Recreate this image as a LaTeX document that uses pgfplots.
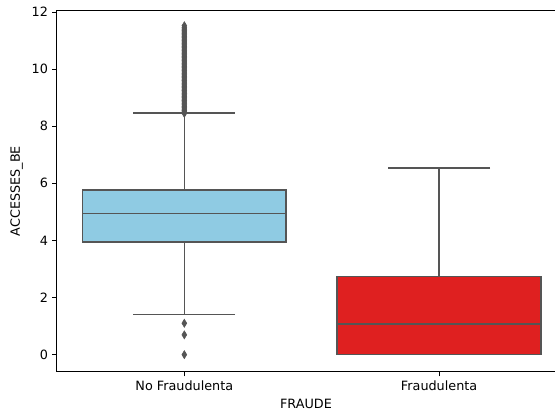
\documentclass[border=0pt]{standalone}
\usepackage{pgfplots}
\pgfplotsset{compat=1.18}
\usepgfplotslibrary{statistics}
\usepackage{fontspec}
\setmainfont{DejaVu Sans}
\definecolor{skyb}{RGB}{143,203,227}
\definecolor{redd}{RGB}{223,32,32}
\definecolor{edgeg}{RGB}{85,85,85}
\begin{document}
\fontsize{12.8pt}{15pt}\selectfont
\begin{tikzpicture}[line width=1.5pt]
\begin{axis}[
  scale only axis, width=498.5pt, height=361.8pt,
  xmin=-0.5, xmax=1.455, ymin=-0.6, ymax=12.06,
  axis x line*=box, axis y line*=left,
  axis line style={line width=1pt, black},
  xtick={0,1}, xticklabels={No Fraudulenta, Fraudulenta},
  ytick={0,2,4,6,8,10,12},
  xtick pos=bottom, ytick pos=left,
  tick align=outside, major tick length=4.5pt,
  tick style={line width=1pt, black},
  /pgf/number format/assume math mode=true,
  ticklabel style={font=\fontsize{12.8pt}{15pt}\selectfont},
  label style={font=\fontsize{12.8pt}{15pt}\selectfont},
  xlabel={FRAUDE}, ylabel={ACCESSES\_BE},
  every axis plot/.append style={line width=1.5pt},
  boxplot/draw direction=y,
  boxplot/box extend=0.8, boxplot/whisker extend=0.4,
]
\addplot[boxplot prepared={draw direction=y, draw position=0, median=4.94, upper quartile=5.76, lower quartile=3.95, upper whisker=8.47, lower whisker=1.40},
  draw=edgeg, fill=skyb, line width=1.5pt, mark=none]
  coordinates {};
\addplot[only marks, mark=diamond*, mark size=4pt, mark options={xscale=0.8, fill=edgeg, draw=edgeg, line width=0.6pt}]
  table[row sep=\\] {
  x y\\
  0 0\\ 0 0.693\\ 0 1.099\\
  0 8.45\\ 0 8.50\\ 0 8.55\\ 0 8.60\\ 0 8.65\\ 0 8.70\\ 0 8.75\\ 0 8.80\\ 0 8.85\\ 0 8.90\\ 0 8.95\\
  0 9.00\\ 0 9.05\\ 0 9.10\\ 0 9.15\\ 0 9.20\\ 0 9.25\\ 0 9.30\\ 0 9.35\\ 0 9.40\\ 0 9.45\\
  0 9.50\\ 0 9.55\\ 0 9.60\\ 0 9.65\\ 0 9.70\\ 0 9.75\\ 0 9.80\\ 0 9.85\\ 0 9.90\\ 0 9.95\\
  0 10.00\\ 0 10.05\\ 0 10.10\\ 0 10.15\\ 0 10.20\\ 0 10.25\\ 0 10.30\\ 0 10.35\\ 0 10.40\\ 0 10.45\\
  0 10.50\\ 0 10.55\\ 0 10.60\\ 0 10.65\\ 0 10.70\\ 0 10.75\\ 0 10.80\\ 0 10.85\\ 0 10.90\\ 0 10.95\\
  0 11.00\\ 0 11.05\\ 0 11.10\\ 0 11.15\\ 0 11.20\\ 0 11.25\\ 0 11.30\\ 0 11.35\\ 0 11.40\\ 0 11.45\\ 0 11.52\\
  };
\addplot[boxplot prepared={draw direction=y, draw position=1, median=1.08, upper quartile=2.74, lower quartile=0, upper whisker=6.53, lower whisker=0},
  draw=edgeg, fill=redd, line width=1.5pt, mark=none]
  coordinates {};
\coordinate (bl) at (rel axis cs:0,0);
\coordinate (tr) at (rel axis cs:1,1);
\end{axis}
\pgfresetboundingbox
\path ([shift={(-57pt,-40pt)}]bl) rectangle ([shift={(0pt,10.3pt)}]tr);
\end{tikzpicture}
\end{document}
